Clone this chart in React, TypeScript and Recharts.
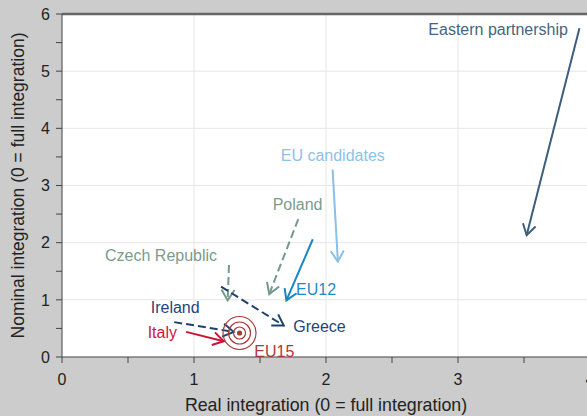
import React from "react";
import {
  ScatterChart,
  Scatter,
  XAxis,
  YAxis,
  CartesianGrid,
  ReferenceLine,
} from "recharts";

// arrow paths: [from, to] in (real, nominal) integration units
const easternPartnership = [{ x: 3.92, y: 5.75 }, { x: 3.52, y: 2.13 }];
const euCandidates = [{ x: 2.05, y: 3.28 }, { x: 2.09, y: 1.67 }];
const poland = [{ x: 1.79, y: 2.41 }, { x: 1.57, y: 1.1 }];
const czechRepublic = [{ x: 1.265, y: 1.61 }, { x: 1.255, y: 0.99 }];
const eu12 = [{ x: 1.9, y: 2.06 }, { x: 1.7, y: 0.99 }];
const greece = [{ x: 1.205, y: 1.23 }, { x: 1.68, y: 0.55 }];
const ireland = [{ x: 0.85, y: 0.61 }, { x: 1.3, y: 0.44 }];
const italy = [{ x: 0.94, y: 0.44 }, { x: 1.225, y: 0.275 }];
const eu15 = [{ x: 1.345, y: 0.42 }];

const labels = [
  { name: "Eastern partnership", x: 3.833, y: 5.64 },
  { name: "EU candidates", x: 1.657, y: 3.43 },
  { name: "Poland", x: 1.596, y: 2.57 },
  { name: "Czech Republic", x: 0.326, y: 1.68 },
  { name: "EU12", x: 1.773, y: 1.085 },
  { name: "Greece", x: 1.752, y: 0.443 },
  { name: "Ireland", x: 0.672, y: 0.775 },
  { name: "Italy", x: 0.649, y: 0.327 },
  { name: "EU15", x: 1.457, y: 0.0 },
];

const xTicks = [0, 0.5, 1, 1.5, 2, 2.5, 3, 3.5, 4];
const yTicks = [0, 0.5, 1, 1.5, 2, 2.5, 3, 3.5, 4, 4.5, 5, 5.5, 6];

const labelStyle: Record<string, { color: string; anchor: string }> = {
  "Eastern partnership": { color: "#46657f", anchor: "end" },
  "EU candidates": { color: "#8cc2e6", anchor: "start" },
  Poland: { color: "#7b9b8d", anchor: "start" },
  "Czech Republic": { color: "#7b9b8d", anchor: "start" },
  EU12: { color: "#1f8bc3", anchor: "start" },
  Greece: { color: "#24457a", anchor: "start" },
  Ireland: { color: "#24457a", anchor: "start" },
  Italy: { color: "#d0163c", anchor: "start" },
  EU15: { color: "#a83a3a", anchor: "start" },
};

const arrow = (color: string, dashed: boolean) => (props: any) => {
  const { x1, y1, x2, y2 } = props;
  const ang = Math.atan2(y1 - y2, x1 - x2);
  const len = 12.5;
  const spread = 0.55;
  const ax1 = x2 + len * Math.cos(ang - spread);
  const ay1 = y2 + len * Math.sin(ang - spread);
  const ax2 = x2 + len * Math.cos(ang + spread);
  const ay2 = y2 + len * Math.sin(ang + spread);
  return (
    <g>
      <line
        x1={x1}
        y1={y1}
        x2={x2}
        y2={y2}
        stroke={color}
        strokeWidth={2}
        strokeDasharray={dashed ? "8 4" : undefined}
      />
      <path
        d={`M${ax1},${ay1}L${x2},${y2}L${ax2},${ay2}`}
        fill="none"
        stroke={color}
        strokeWidth={2}
      />
    </g>
  );
};

const Target = (props: any) => {
  const { cx, cy } = props;
  const c = "#a83a3a";
  return (
    <g>
      <circle cx={cx} cy={cy} r={16.5} fill="none" stroke={c} strokeWidth={1.2} />
      <circle cx={cx} cy={cy} r={11} fill="none" stroke={c} strokeWidth={1.2} />
      <circle cx={cx} cy={cy} r={6} fill="none" stroke={c} strokeWidth={1.2} />
      <circle cx={cx} cy={cy} r={2.6} fill={c} />
    </g>
  );
};

const LabelText = (props: any) => {
  const { cx, cy, payload } = props;
  const s = labelStyle[payload.name];
  return (
    <text x={cx} y={cy} fill={s.color} textAnchor={s.anchor} fontSize={16}>
      {payload.name}
    </text>
  );
};

const intOnly = (v: number) => (Number.isInteger(v) ? String(v) : "");

const segs: { d: { x: number; y: number }[]; color: string; dashed: boolean }[] = [
  { d: easternPartnership, color: "#3d5e7b", dashed: false },
  { d: euCandidates, color: "#88c0e6", dashed: false },
  { d: poland, color: "#739a8a", dashed: true },
  { d: czechRepublic, color: "#739a8a", dashed: true },
  { d: eu12, color: "#1a87c0", dashed: false },
  { d: greece, color: "#1e416f", dashed: true },
  { d: ireland, color: "#1e416f", dashed: true },
  { d: italy, color: "#cc1236", dashed: false },
];

export default function App() {
  return (
    <div
      style={{
        position: "fixed",
        left: 0,
        top: 0,
        width: 587,
        height: 416,
        background: "#cccccc",
        overflow: "hidden",
        fontFamily: "'Liberation Sans', Arial, sans-serif",
      }}
    >
      <ScatterChart
        width={600}
        height={416}
        margin={{ top: 14, right: 10, bottom: 0, left: 0 }}
      >
        <CartesianGrid
          fill="#ffffff"
          stroke="#e6e6e6"
          horizontalValues={[1, 2, 3, 4, 5]}
          verticalValues={[1, 2, 3]}
        />
        <XAxis
          type="number"
          dataKey="x"
          domain={[0, 4]}
          ticks={xTicks}
          tickFormatter={intOnly}
          allowDataOverflow
          height={59}
          tickSize={6}
          tickMargin={11}
          stroke="#444"
          tick={{ fill: "#222", fontSize: 16 }}
          label={{
            value: "Real integration (0 = full integration)",
            position: "insideBottom",
            offset: 5,
            fill: "#222",
            fontSize: 17.8,
          }}
        />
        <YAxis
          type="number"
          dataKey="y"
          domain={[0, 6]}
          ticks={yTicks}
          tickFormatter={intOnly}
          allowDataOverflow
          width={62}
          tickSize={6}
          tickMargin={6}
          stroke="#444"
          tick={{ fill: "#222", fontSize: 16 }}
          label={{
            value: "Nominal integration (0 = full integration)",
            angle: -90,
            position: "insideLeft",
            offset: 18,
            fill: "#222",
            fontSize: 17.5,
            style: { textAnchor: "middle" },
          }}
        />
        <ReferenceLine y={6} stroke="#666" strokeWidth={2.5} />
        {segs.map((s, i) => (
          <ReferenceLine
            key={i}
            segment={[s.d[0], s.d[1]]}
            shape={arrow(s.color, s.dashed)}
          />
        ))}
        <Scatter data={eu15} shape={Target} isAnimationActive={false} />
        <Scatter data={labels} shape={LabelText} isAnimationActive={false} />
      </ScatterChart>
    </div>
  );
}
